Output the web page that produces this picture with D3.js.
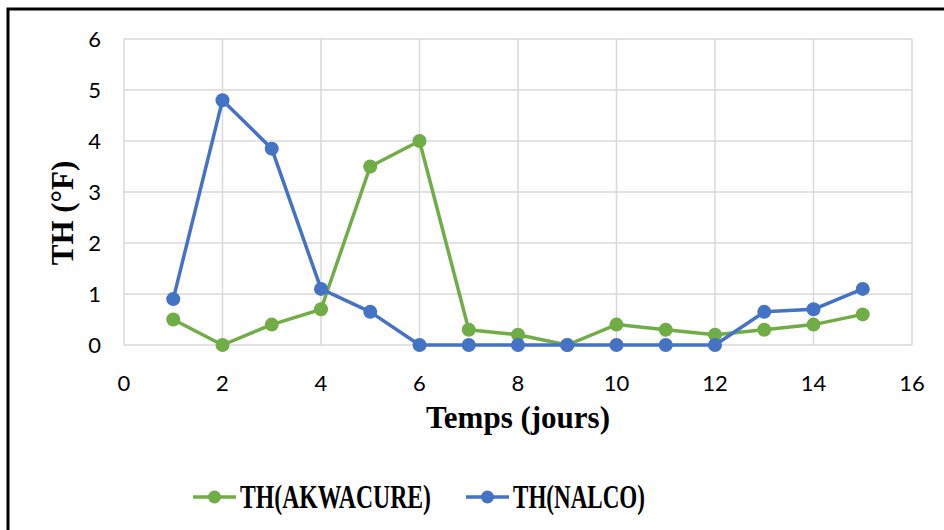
<!DOCTYPE html>
<html>
<head>
<meta charset="utf-8">
<script src="https://cdn.jsdelivr.net/npm/d3@7"></script>
<style>
  body { margin: 0; background: #fff; }
  svg { display: block; }
</style>
</head>
<body>
<div id="chart"></div>
<script>
// data
var days = [1, 2, 3, 4, 5, 6, 7, 8, 9, 10, 11, 12, 13, 14, 15];
var akwacure = [0.5, 0, 0.4, 0.7, 3.5, 4.0, 0.3, 0.2, 0, 0.4, 0.3, 0.2, 0.3, 0.4, 0.6];
var nalco = [0.9, 4.8, 3.85, 1.1, 0.65, 0, 0, 0, 0, 0, 0, 0, 0.65, 0.7, 1.1];
var xTicks = [0, 2, 4, 6, 8, 10, 12, 14, 16];
var yTicks = [0, 1, 2, 3, 4, 5, 6];
var seriesNames = ["TH(AKWACURE)", "TH(NALCO)"];
var seriesColors = ["#70AD47", "#4472C4"];

var W = 944, H = 530;
var plot = {left: 124, top: 39, right: 912, bottom: 345};

var svg = d3.select("#chart").append("svg")
    .attr("width", W).attr("height", H);

// outer frame (runs off the right and bottom edges)
svg.append("rect")
    .attr("x", 8).attr("y", 9)
    .attr("width", W + 20).attr("height", H + 20)
    .attr("fill", "none").attr("stroke", "#000").attr("stroke-width", 3);

var x = d3.scaleLinear().domain([0, 16]).range([plot.left, plot.right]);
var y = d3.scaleLinear().domain([0, 6]).range([plot.bottom, plot.top]);

// gridlines
svg.append("g").selectAll("line").data(yTicks).join("line")
    .attr("x1", plot.left).attr("x2", plot.right)
    .attr("y1", function (d) { return y(d); }).attr("y2", function (d) { return y(d); })
    .attr("stroke", "#d9d9d9").attr("stroke-width", 1.5);
svg.append("g").selectAll("line").data(xTicks).join("line")
    .attr("y1", plot.top).attr("y2", plot.bottom)
    .attr("x1", function (d) { return x(d); }).attr("x2", function (d) { return x(d); })
    .attr("stroke", "#d9d9d9").attr("stroke-width", 1.5);

// tick labels
var tickFont = "Lato, 'Open Sans', sans-serif";
svg.append("g").selectAll("text").data(yTicks).join("text")
    .attr("x", 101).attr("y", function (d) { return y(d); })
    .attr("dy", "0.35em").attr("text-anchor", "end")
    .style("font-family", tickFont).style("font-size", "22px").attr("fill", "#000")
    .text(function (d) { return d; });
svg.append("g").selectAll("text").data(xTicks).join("text")
    .attr("x", function (d) { return x(d); }).attr("y", 383)
    .attr("dy", "0.35em").attr("text-anchor", "middle")
    .style("font-family", tickFont).style("font-size", "22px").attr("fill", "#000")
    .text(function (d) { return d; });

// axis titles
var titleFont = "'Liberation Serif', 'Times New Roman', serif";
svg.append("text")
    .attr("transform", "translate(73,213) rotate(-90)")
    .attr("text-anchor", "middle")
    .style("font-family", titleFont).style("font-weight", "bold").style("font-size", "31px")
    .text("TH (°F)");
svg.append("text")
    .attr("x", 518).attr("y", 428)
    .attr("text-anchor", "middle")
    .style("font-family", titleFont).style("font-weight", "bold").style("font-size", "31px")
    .text("Temps (jours)");

// series
var allSeries = [akwacure, nalco];
var line = d3.line()
    .x(function (d, i) { return x(days[i]); })
    .y(function (d) { return y(d); });

allSeries.forEach(function (vals, k) {
    var g = svg.append("g");
    g.append("path").datum(vals)
        .attr("d", line)
        .attr("fill", "none")
        .attr("stroke", seriesColors[k]).attr("stroke-width", 3.5)
        .attr("stroke-linejoin", "round");
    g.selectAll("circle").data(vals).join("circle")
        .attr("cx", function (d, i) { return x(days[i]); })
        .attr("cy", function (d) { return y(d); })
        .attr("r", 7)
        .attr("fill", seriesColors[k]);
});

// legend (text is condensed in the original)
var legendItems = [{x0: 193, w: 191}, {x0: 466, w: 132}];
legendItems.forEach(function (it, k) {
    var g = svg.append("g").attr("transform", "translate(" + it.x0 + ",497)");
    g.append("line").attr("x1", 0).attr("x2", 43).attr("y1", 0).attr("y2", 0)
        .attr("stroke", seriesColors[k]).attr("stroke-width", 3.5);
    g.append("circle").attr("cx", 21.5).attr("cy", 0).attr("r", 6.5).attr("fill", seriesColors[k]);
    g.append("text").attr("x", 47).attr("y", 11)
        .attr("textLength", it.w).attr("lengthAdjust", "spacingAndGlyphs")
        .style("font-family", titleFont).style("font-weight", "bold").style("font-size", "34px")
        .text(seriesNames[k]);
});
</script>
</body>
</html>
